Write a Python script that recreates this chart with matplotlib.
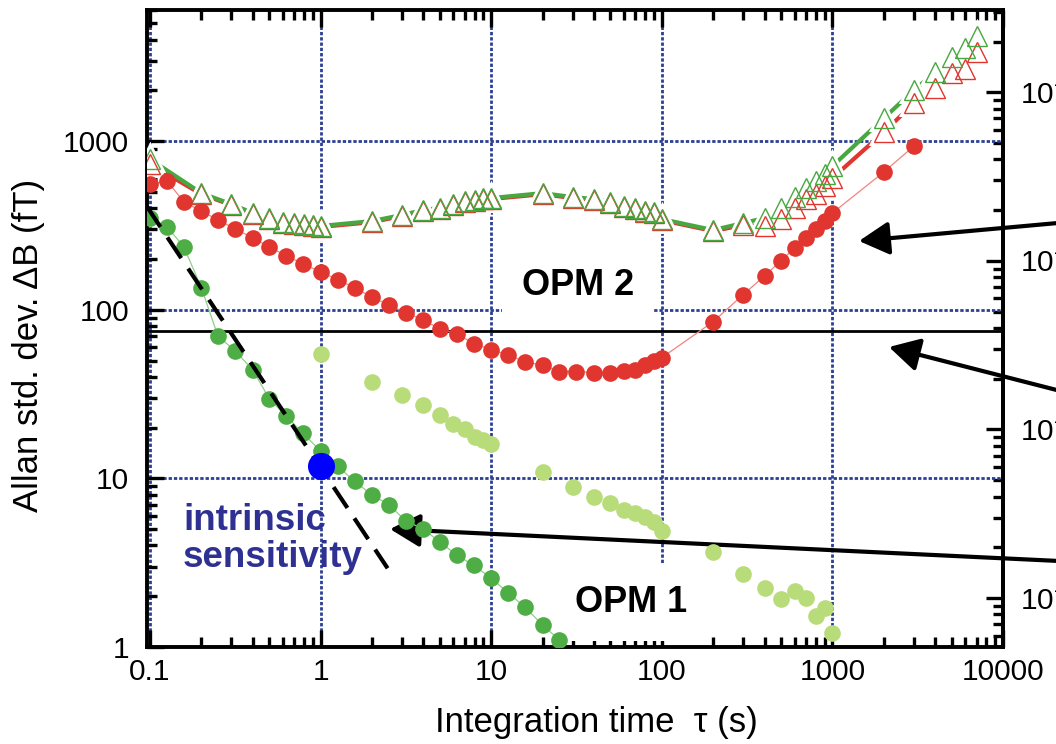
import matplotlib
matplotlib.use("Agg")
import matplotlib.pyplot as plt
from matplotlib.ticker import LogLocator, NullFormatter, FixedLocator

plt.rcParams['font.family'] = ['Liberation Sans', 'DejaVu Sans']
plt.rcParams['mathtext.default'] = 'regular'

# OPM 2 (red dots)
tau_opm2 = [0.1, 0.126, 0.158, 0.2, 0.25, 0.316, 0.4, 0.5, 0.63, 0.79,
            1, 1.26, 1.58, 2, 2.5, 3.16, 4, 5, 6.3, 7.9,
            10, 12.6, 15.8, 20, 25, 31.6, 40, 50, 60, 70, 80, 90, 100,
            200, 300, 400, 500, 600, 700, 800, 900, 1000, 2000, 3000]
adev_opm2 = [557, 580, 436, 385, 341, 302, 267, 236, 209, 187,
             168, 151, 135, 119, 107, 96, 87, 77, 72, 63,
             58, 54, 49, 47, 43, 43, 42.4, 42.4, 43.6, 44, 47, 50, 52,
             85, 123, 159, 195, 233, 267, 302, 336, 375, 656, 934]

# OPM 1 (dark green dots)
tau_opm1 = [0.1, 0.126, 0.158, 0.2, 0.25, 0.316, 0.4, 0.5, 0.63, 0.79,
            1, 1.26, 1.58, 2, 2.5, 3.16, 4, 5, 6.3, 7.9,
            10, 12.6, 15.8, 20, 25.1]
adev_opm1 = [350, 310, 236, 135, 70, 57, 44, 29.7, 23.3, 18.5,
             14.5, 11.8, 9.6, 8.0, 7.0, 5.6, 5.0, 4.2, 3.5, 3.05,
             2.56, 2.09, 1.72, 1.35, 1.10]

# OPM 1, long run (light green dots)
tau_opm1b = [1, 2, 3, 4, 5, 6, 7, 8, 9, 10,
             20, 30, 40, 50, 60, 70, 80, 90, 100,
             200, 300, 400, 500, 600, 700, 800, 900, 1000]
adev_opm1b = [55, 37.5, 31.4, 27.4, 23.9, 20.9, 19.5, 17.7, 16.8, 16.1,
              10.9, 8.85, 7.8, 7.1, 6.5, 6.2, 5.9, 5.5, 4.86,
              3.65, 2.70, 2.24, 1.92, 2.14, 1.95, 1.52, 1.70, 1.21]

# single-sensor signals (open triangles)
tau_tri = [0.1, 0.2, 0.3, 0.4, 0.5, 0.6, 0.7, 0.8, 0.9,
           1, 2, 3, 4, 5, 6, 7, 8, 9,
           10, 20, 30, 40, 50, 60, 70, 80, 90,
           100, 200, 300, 400, 500, 600, 700, 800, 900,
           1000, 2000, 3000, 4000, 5000, 6000, 7000]
adev_tri_green = [782, 492, 423, 375, 350, 332, 327, 323, 318,
                  314, 336, 365, 391, 402, 424, 442, 448, 460,
                  460, 492, 466, 454, 436, 412, 402, 385, 380,
                  345, 297, 327, 350, 402, 466, 527, 580, 638,
                  711, 1368, 2004, 2558, 3140, 3550, 4180]
adev_tri_red = [731, 485, 418, 370, 345, 328, 322, 318, 314,
                310, 331, 360, 386, 397, 418, 436, 442, 454,
                454, 485, 460, 448, 430, 406, 397, 380, 375,
                340, 293, 318, 314, 345, 402, 454, 486, 542,
                604, 1130, 1679, 2060, 2525, 2667, 3364]

# intrinsic sensitivity point and slope guide
tau_intr = [1]
adev_intr = [11.9]
tau_guide = [0.0955, 2.47]
adev_guide = [412, 2.93]
ref_level = 75

xticks = [0.1, 1, 10, 100, 1000, 10000]
xtick_labels = ['0.1', '1', '10', '100', '1000', '10000']
yticks = [1, 10, 100, 1000]
ytick_labels = ['1', '10', '100', '1000']

RED = '#e0362f'
GREEN = '#47a83f'
DGREEN = '#4eae45'
LGREEN = '#b9dc7b'
GRID = '#2b3f94'
NAVY = '#2e3192'

fig = plt.figure(figsize=(10.56, 7.44), dpi=100)
ax = fig.add_axes([147 / 1056, 1 - 647 / 744, 856 / 1056, 637 / 744])
ax.set_xscale('log')
ax.set_yscale('log')
ax.set_xlim(0.096, 10000)
ax.set_ylim(1, 6000)

ax.grid(True, which='major', color=GRID, ls=(0, (1.2, 0.7)), lw=2.0, zorder=0.5)
ax.set_axisbelow(True)

ax.axhline(ref_level, color='black', lw=2, zorder=2)

# triangles: thick lines broken around each marker
ax.plot(tau_tri, adev_tri_red, '-', color=RED, lw=3, zorder=3)
ax.plot(tau_tri, adev_tri_green, '-', color=GREEN, lw=3, zorder=3.1)
ax.plot(tau_tri, adev_tri_red, '^', ms=15, mfc='white', mec='white', mew=5, zorder=3.15)
ax.plot(tau_tri, adev_tri_green, '^', ms=15, mfc='white', mec='white', mew=5, zorder=3.15)
ax.plot(tau_tri, adev_tri_red, '^', ms=15, mfc='none', mec=RED, mew=1, zorder=3.2)
ax.plot(tau_tri, adev_tri_green, '^', ms=15, mfc='none', mec=GREEN, mew=1, zorder=3.3)

ax.plot(tau_opm2, adev_opm2, '-', color='#f0857f', lw=0.9, zorder=3.4)
ax.plot(tau_opm2, adev_opm2, 'o', ms=12, color=RED, mec='none', zorder=4)

ax.plot(tau_opm1, adev_opm1, '-', color='#8fd08a', lw=0.9, zorder=3.4)
ax.plot(tau_opm1, adev_opm1, 'o', ms=12, color=DGREEN, mec='none', zorder=4)
ax.plot(tau_opm1b, adev_opm1b, 'o', ms=12, color=LGREEN, mec='none', zorder=4)

ax.plot(tau_guide, adev_guide, color='black', lw=3, ls=(0, (6, 3)), zorder=4.5)
ax.plot(tau_intr, adev_intr, 'o', ms=19.5, color='#0000ff', mec='none', zorder=5)

# ticks
ax.xaxis.set_major_locator(FixedLocator(xticks))
ax.set_xticklabels(xtick_labels)
ax.xaxis.set_minor_locator(LogLocator(base=10, subs=range(2, 10), numticks=20))
ax.xaxis.set_minor_formatter(NullFormatter())
ax.yaxis.set_major_locator(FixedLocator(yticks))
ax.set_yticklabels(ytick_labels)
ax.yaxis.set_minor_locator(LogLocator(base=10, subs=range(2, 10), numticks=20))
ax.yaxis.set_minor_formatter(NullFormatter())
ax.tick_params(which='both', direction='in', top=True, right=False, width=2.4,
               labelsize=21.5)
ax.tick_params(which='major', length=12)
ax.tick_params(which='minor', length=7)
ax.tick_params(axis='x', pad=8)
ax.tick_params(axis='y', pad=13)
for sp in ax.spines.values():
    sp.set_linewidth(2.8)

K = 1e-14 / 195
sec = ax.secondary_yaxis('right', functions=(lambda y: y * K, lambda y: y / K))
sec.set_yticks([1e-16, 1e-15, 1e-14, 1e-13])
sec.tick_params(which='both', direction='in', width=2.4, labelsize=21.5, pad=12)
sec.tick_params(which='major', length=12)
sec.tick_params(which='minor', length=7)
sec.spines['right'].set_linewidth(2.8)

ax.set_xlabel('Integration time  \u03c4 (s)', fontsize=25, va='center')
ax.xaxis.set_label_coords(0.525, -0.118)
ax.set_ylabel('Allan std. dev. \u0394B (fT)', fontsize=25, va='center')
ax.yaxis.set_label_coords(-0.138, 0.474)

ax.text(0.5035, 0.567, 'OPM 2', transform=ax.transAxes, fontsize=26,
        fontweight='bold', ha='center', va='center', zorder=2.5,
        bbox=dict(boxstyle='square,pad=0.55', fc='white', ec='none'))
ax.text(0.565, 0.0706, 'OPM 1', transform=ax.transAxes, fontsize=26,
        fontweight='bold', ha='center', va='center', zorder=2.5,
        bbox=dict(boxstyle='square,pad=0.6', fc='white', ec='none'))
ax.text(0.042, 0.1695, 'intrinsic\nsensitivity', transform=ax.transAxes,
        fontsize=26.5, fontweight='bold', color=NAVY, ha='left', va='center',
        linespacing=1.05, zorder=2.5)

# arrows coming in from beyond the right edge (figure pixels)
arrow_tips = [(859, 503), (889, 397), (390, 215)]
arrow_tails = [(1080, 523), (1080, 348), (1080, 182)]
for tip, tail in zip(arrow_tips, arrow_tails):
    ax.annotate('', xy=tip, xycoords='figure pixels', xytext=tail,
                textcoords='figure pixels', annotation_clip=False,
                arrowprops=dict(arrowstyle='-|>,head_length=0.4,head_width=0.22',
                                mutation_scale=46, lw=3, color='black',
                                shrinkA=0, shrinkB=0))

fig.savefig('out.png', dpi=100)
